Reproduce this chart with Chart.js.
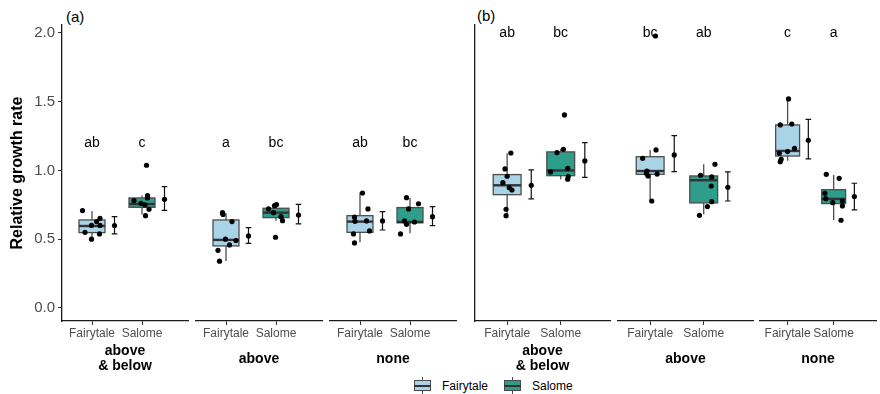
<!DOCTYPE html>
<html>
<head>
<meta charset="utf-8">
<script src="https://cdn.jsdelivr.net/npm/chart.js@4"></script>
<style>
  body { margin: 0; background: #fff; font-family: "Liberation Sans", Arial, sans-serif; }
  #wrap { position: relative; width: 880px; height: 394px; overflow: hidden; }
  #wrap canvas { position: absolute; left: 0; top: 0; }
  .tag { position: absolute; font-size: 15px; color: #000; line-height: 1; }
  .legend { position: absolute; top: 377px; left: 414px; display: flex; align-items: center; font-size: 12px; color: #000; }
  .key { position: relative; width: 17px; height: 17px; margin-right: 11px; }
  .key .bx { position: absolute; left: 0; top: 3px; width: 15px; height: 9px; border: 1.2px solid #4d4d4d; }
  .key .md { position: absolute; left: 0; top: 7.5px; width: 17px; height: 2px; background: #333; }
  .key .wk { position: absolute; left: 8px; top: 0; width: 1.2px; height: 17px; background: #4d4d4d; }
  .lab { margin-right: 16px; }
</style>
</head>
<body>
<div id="wrap">
  <div class="tag" style="left:66px; top:9px;">(a)</div>
  <div class="tag" style="left:477px; top:8px;">(b)</div>
  <div class="legend">
    <div class="key"><div class="wk"></div><div class="bx" style="background:#a9d4e8"></div><div class="md"></div></div>
    <span class="lab">Fairytale</span>
    <div class="key"><div class="wk"></div><div class="bx" style="background:#2e9d8a"></div><div class="md"></div></div>
    <span>Salome</span>
  </div>
</div>
<script>
const categories = ['Fairytale', 'Salome'];
const facetNames = [['above', '& below'], ['above'], ['none']];
const yTicks = [0, 0.5, 1, 1.5, 2];

// order: facet 1 Fairytale, facet 1 Salome, facet 2 Fairytale, ...
// box = [lower whisker, q1, median, q3, upper whisker]
const boxA = [
  [0.50, 0.548, 0.596, 0.64, 0.705],
  [0.68, 0.732, 0.756, 0.80, 0.817],
  [0.342, 0.451, 0.495, 0.64, 0.689],
  [0.635, 0.657, 0.693, 0.725, 0.749],
  [0.478, 0.55, 0.628, 0.671, 0.839],
  [0.543, 0.62, 0.625, 0.73, 0.80]
];
const boxB = [
  [0.671, 0.824, 0.892, 0.97, 1.125],
  [0.936, 0.962, 1.0, 1.135, 1.154],
  [0.778, 0.972, 0.996, 1.10, 1.149],
  [0.681, 0.764, 0.929, 0.96, 1.045],
  [1.071, 1.105, 1.142, 1.331, 1.52],
  [0.64, 0.759, 0.793, 0.86, 0.967]
];

// individual plants
const pointsA = [
  [0.708, 0.55, 0.50, 0.60, 0.628, 0.652, 0.60, 0.538],
  [1.038, 0.78, 0.761, 0.749, 0.671, 0.817, 0.80, 0.718],
  [0.693, 0.68, 0.628, 0.50, 0.49, 0.458, 0.419, 0.34],
  [0.72, 0.744, 0.752, 0.693, 0.664, 0.635, 0.514],
  [0.836, 0.72, 0.66, 0.63, 0.633, 0.56, 0.538, 0.473],
  [0.802, 0.758, 0.72, 0.633, 0.608, 0.625, 0.538]
];
const jitterA = [
  [-0.19, -0.14, -0.01, -0.01, 0.09, 0.16, 0.16, 0.15],
  [0.09, -0.16, -0.02, 0.06, 0.07, 0.11, 0.11, 0.14],
  [-0.07, -0.06, 0.12, -0.01, 0.2, 0.07, -0.16, -0.13],
  [-0.15, -0.03, 0.01, -0.05, 0.1, 0.13, -0.01],
  [0.05, 0.16, -0.11, -0.1, 0.13, 0.19, -0.13, -0.11],
  [-0.07, 0.17, -0.03, -0.11, -0.07, 0.09, -0.19]
];
const pointsB = [
  [1.127, 1.011, 0.958, 0.911, 0.875, 0.858, 0.718, 0.671],
  [1.404, 1.154, 1.13, 0.989, 1.016, 0.955, 0.936],
  [1.149, 1.088, 0.996, 0.979, 0.974, 0.96, 0.778, 1.978],
  [1.045, 0.965, 0.953, 0.887, 0.773, 0.737, 0.674],
  [1.52, 1.331, 1.338, 1.161, 1.137, 1.125, 1.081, 1.064],
  [0.972, 0.943, 0.834, 0.795, 0.766, 0.778, 0.742, 0.638]
];
const jitterB = [
  [0.07, -0.04, 0, -0.08, 0.04, 0.09, -0.02, -0.02],
  [0.07, 0.05, -0.07, -0.19, 0.13, 0.14, 0.13],
  [0.11, -0.14, -0.06, -0.07, 0.13, -0.04, 0.03, 0.1],
  [0.21, -0.06, 0.15, 0.14, 0.15, 0.07, -0.08],
  [0.02, -0.16, 0.09, 0.15, 0, -0.18, -0.14, -0.16],
  [-0.16, 0.12, -0.19, -0.17, -0.02, 0.19, 0.19, 0.16]
];

// mean, lower, upper
const meanA = [
  [0.599, 0.538, 0.664], [0.79, 0.71, 0.882],
  [0.524, 0.47, 0.584], [0.676, 0.611, 0.754],
  [0.633, 0.567, 0.70], [0.664, 0.599, 0.737]
];
const meanB = [
  [0.892, 0.793, 1.004], [1.069, 0.95, 1.202],
  [1.113, 0.991, 1.253], [0.878, 0.778, 0.989],
  [1.219, 1.084, 1.372], [0.81, 0.713, 0.907]
];

const lettersA = ['ab', 'c', 'a', 'bc', 'ab', 'bc'];
const lettersB = ['ab', 'bc', 'bc', 'ab', 'c', 'a'];
const letterY = [1.2, 2.0];

const fills = ['#a9d4e8', '#2e9d8a'];
const boxWidth = 0.52;
const meanShift = 0.45;

Chart.defaults.font.family = '"Liberation Sans", Arial, sans-serif';

const facetBoxes = {
  id: 'facetBoxes',
  beforeDatasetsDraw(chart, args, o) {
    const { ctx, scales: { x, y } } = chart;
    o.boxes.forEach((b, c) => {
      const xm = x.getPixelForValue(c + 1);
      const x0 = x.getPixelForValue(c + 1 - boxWidth / 2);
      const x1 = x.getPixelForValue(c + 1 + boxWidth / 2);
      const top = y.getPixelForValue(b[3]), bot = y.getPixelForValue(b[1]);
      ctx.save();
      ctx.strokeStyle = '#4d4d4d';
      ctx.lineWidth = 1.3;
      ctx.beginPath();
      ctx.moveTo(xm, y.getPixelForValue(b[0])); ctx.lineTo(xm, bot);
      ctx.moveTo(xm, top); ctx.lineTo(xm, y.getPixelForValue(b[4]));
      ctx.stroke();
      ctx.fillStyle = fills[c];
      ctx.fillRect(x0, top, x1 - x0, bot - top);
      ctx.strokeRect(x0, top, x1 - x0, bot - top);
      ctx.strokeStyle = '#333';
      ctx.lineWidth = 2.4;
      const ym = y.getPixelForValue(b[2]);
      ctx.beginPath(); ctx.moveTo(x0, ym); ctx.lineTo(x1, ym); ctx.stroke();
      // mean +- error
      const m = o.means[c];
      const xe = x.getPixelForValue(c + 1 + meanShift);
      const lo = y.getPixelForValue(m[1]), hi = y.getPixelForValue(m[2]);
      ctx.strokeStyle = '#111';
      ctx.lineWidth = 1.2;
      ctx.beginPath();
      ctx.moveTo(xe, lo); ctx.lineTo(xe, hi);
      ctx.moveTo(xe - 2.8, lo); ctx.lineTo(xe + 2.8, lo);
      ctx.moveTo(xe - 2.8, hi); ctx.lineTo(xe + 2.8, hi);
      ctx.stroke();
      ctx.restore();
    });
  },
  afterDatasetsDraw(chart, args, o) {
    const { ctx, scales: { x, y } } = chart;
    ctx.save();
    ctx.fillStyle = '#000';
    ctx.font = '14px "Liberation Sans", Arial, sans-serif';
    ctx.textAlign = 'center';
    ctx.textBaseline = 'middle';
    o.letters.forEach((t, c) => {
      ctx.fillText(t, x.getPixelForValue(c + 1), y.getPixelForValue(o.letterY));
    });
    ctx.restore();
  }
};

const facetLeft = [[62, 196, 330], [475, 618, 760]];
const facetRight = [[188, 322, 456], [610, 753, 879]];
const panels = [
  { box: boxA, pts: pointsA, jit: jitterA, mean: meanA, letters: lettersA },
  { box: boxB, pts: pointsB, jit: jitterB, mean: meanB, letters: lettersB }
];

const wrap = document.getElementById('wrap');
panels.forEach((p, pi) => {
  for (let f = 0; f < 3; f++) {
    const canvas = document.createElement('canvas');
    canvas.width = 880; canvas.height = 394;
    wrap.appendChild(canvas);
    const withTicks = pi === 0 && f === 0;
    const withLine = f === 0;
    const axisW = withTicks ? 62 : 0;
    const idx = [f * 2, f * 2 + 1];
    const jittered = [];
    idx.forEach((k, c) => p.pts[k].forEach((v, i) => jittered.push({ x: c + 1 + p.jit[k][i], y: v })));
    const means = idx.map((k, c) => ({ x: c + 1 + meanShift, y: p.mean[k][0] }));
    const title = facetNames[f];
    new Chart(canvas, {
      type: 'scatter',
      data: {
        datasets: [
          { data: jittered, pointRadius: 2.6, pointBackgroundColor: '#000', pointBorderWidth: 0, clip: false },
          { data: means, pointRadius: 2.6, pointBackgroundColor: '#000', pointBorderWidth: 0, clip: false }
        ]
      },
      options: {
        responsive: false,
        animation: false,
        events: [],
        layout: { padding: { left: facetLeft[pi][f] - axisW, right: 880 - facetRight[pi][f], top: 25, bottom: 0 } },
        plugins: {
          legend: { display: false },
          tooltip: { enabled: false },
          facetBoxes: {
            boxes: idx.map(k => p.box[k]),
            means: idx.map(k => p.mean[k]),
            letters: idx.map(k => p.letters[k]),
            letterY: letterY[pi]
          }
        },
        scales: {
          x: {
            type: 'linear', min: 0.4, max: 2.92,
            afterBuildTicks: s => { s.ticks = [{ value: 1 }, { value: 2 }]; },
            afterFit: s => { s.height = 73; },
            ticks: { callback: v => categories[v - 1], color: '#4d4d4d', font: { size: 12 }, padding: 1, maxRotation: 0, autoSkip: false },
            grid: { drawOnChartArea: false, drawTicks: true, tickLength: 4, tickColor: '#333', tickWidth: 1.1 },
            border: { display: true, color: '#1a1a1a', width: 1.3 },
            title: {
              display: true, text: title, color: '#000',
              font: { size: 14, weight: 'bold', lineHeight: 1.1 },
              padding: { top: 0, bottom: title.length > 1 ? 20.2 : 27.3 }
            }
          },
          y: {
            type: 'linear', min: -0.095, max: 2.058,
            display: withLine,
            afterBuildTicks: s => { s.ticks = yTicks.map(v => ({ value: v })); },
            afterFit: s => { s.width = axisW; },
            ticks: { display: withTicks, callback: v => v.toFixed(1), color: '#4d4d4d', font: { size: 15 }, padding: 3 },
            grid: { drawOnChartArea: false, drawTicks: withTicks, tickLength: 4, tickColor: '#333', tickWidth: 1.1 },
            border: { display: withLine, color: '#1a1a1a', width: 1.3 },
            title: {
              display: withTicks, text: 'Relative growth rate', color: '#000',
              font: { size: 16, weight: 'bold' }, padding: { top: 8.4, bottom: 0 }
            }
          }
        }
      },
      plugins: [facetBoxes]
    });
  }
});
</script>
</body>
</html>
